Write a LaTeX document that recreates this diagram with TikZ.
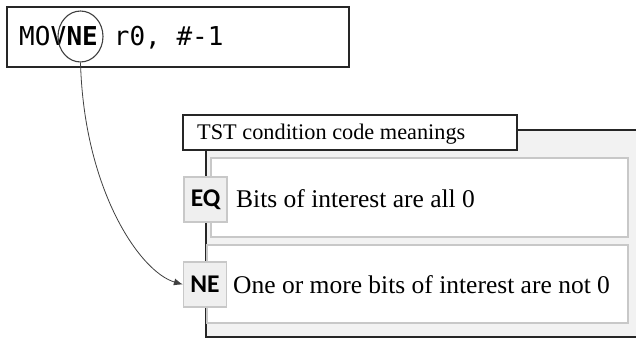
\documentclass[tikz,border=0pt]{standalone}
\usepackage{fontspec}
\setmainfont{Liberation Serif}
\newfontfamily\codefont{DejaVu Sans Mono}
\newfontfamily\tagfont{Carlito}
\usetikzlibrary{shapes.geometric,arrows.meta}
\definecolor{panelgray}{HTML}{F2F2F2}
\definecolor{rowborder}{HTML}{C8C8C8}
\definecolor{taggray}{HTML}{EFEFEF}
\tikzset{
  codetext/.style={font=\codefont\fontsize{26}{30}\selectfont, inner sep=0pt, anchor=base west},
  tagbox/.style={draw=rowborder, line width=1.2pt, fill=taggray, font=\tagfont\bfseries\fontsize{25.5}{30}\selectfont, minimum width=43pt, minimum height=45pt, inner sep=0pt},
  rowbox/.style={draw=rowborder, line width=1.4pt, fill=white},
  rowtext/.style={font=\fontsize{25.5}{30}\selectfont, inner sep=0pt, anchor=base west},
  frameline/.style={line width=1.6pt, draw=black!85},
  connector/.style={draw=black!75, line width=0.8pt, -{Latex[length=9pt,width=7pt]}}
}
\begin{document}
\begin{tikzpicture}[x=1pt,y=-1pt]
\useasboundingbox (0,0) rectangle (636,339);
% instruction box
\draw[frameline, fill=white] (7,7) rectangle (349,67);
\node[codetext] (mov) at (19,46) {MOV};
\node[codetext, font=\codefont\bfseries\fontsize{26}{30}\selectfont] (ne) at (mov.base east) {NE};
\node[codetext] (rest) at (ne.base east) {\ r0, \#-1};
\node[draw=black!75, line width=1.1pt, ellipse, minimum width=45pt, minimum height=51pt, inner sep=0pt] (circ) at (80.5,36.5) {};
% panel
\fill[panelgray] (206,130) rectangle (640,337);
\draw[frameline] (206,150) -- (206,337) -- (640,337);
\draw[frameline] (517,130) -- (640,130);
\node[frameline, draw, fill=white, minimum width=334pt, minimum height=35pt, inner sep=0pt] (title) at (350,132.5) {};
\node[font=\fontsize{22.3}{26}\selectfont, inner sep=0pt, anchor=base west] (titletext) at (197,140) {TST condition code meanings};
% rows
\node[rowbox, minimum width=417pt, minimum height=79pt, inner sep=0pt] (row1) at (419.5,197.5) {};
\node[rowbox, minimum width=421pt, minimum height=78pt, inner sep=0pt] (row2) at (417.5,284) {};
\node[tagbox] (eq) at (205.5,199.5) {EQ};
\node[tagbox] (netag) at (205,284.5) {NE};
\node[rowtext] (eqtext) at (236,207) {Bits of interest are all 0};
\node[rowtext] (netext) at (233,293) {One or more bits of interest are not 0};
% connector
\draw[connector] (circ.south) .. controls (84,190) and (140,272) .. (netag.west);
\end{tikzpicture}
\end{document}
